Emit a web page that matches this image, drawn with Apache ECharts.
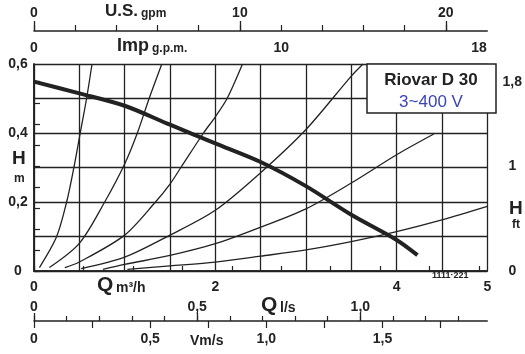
<!DOCTYPE html>
<html>
<head>
<meta charset="utf-8">
<script src="https://cdn.jsdelivr.net/npm/echarts@6/dist/echarts.min.js"></script>
<style>
html,body{margin:0;padding:0;background:#fff;}
#main{width:525px;height:354px;}
</style>
</head>
<body>
<div id="main"></div>
<script>
// Q in m3/h, H in m
var pumpCurve = [[0,0.549],[0.5,0.515],[1.0,0.479],[1.5,0.424],[2.0,0.37],[2.5,0.316],[3.0,0.246],[3.5,0.163],[4.0,0.09],[4.23,0.046]];
var sys1 = [[0.06,0.01],[0.25,0.1],[0.36,0.2],[0.44,0.3],[0.51,0.4],[0.58,0.5],[0.64,0.6]];
var sys2 = [[0.17,0.01],[0.5,0.08],[0.78,0.2],[1.0,0.31],[1.14,0.4],[1.27,0.5],[1.41,0.6]];
var sys3 = [[0.34,0.01],[0.5,0.026],[1.0,0.104],[1.34,0.2],[1.5,0.252],[1.62,0.3],[1.87,0.4],[2.0,0.447],[2.13,0.5],[2.3,0.6]];
var sys4 = [[0.52,0.007],[1.0,0.04],[1.5,0.104],[2.0,0.176],[2.5,0.285],[3.0,0.41],[3.5,0.565],[3.63,0.6]];
var sys5 = [[0.76,0.005],[1.0,0.019],[1.5,0.045],[2.0,0.079],[2.5,0.127],[3.0,0.18],[3.5,0.255],[4.0,0.337],[4.41,0.397]];
var sys6 = [[1.03,0.005],[1.5,0.015],[2.0,0.026],[2.5,0.043],[3.0,0.061],[3.5,0.085],[4.0,0.114],[4.5,0.148],[5.0,0.187]];

// tick / label values of the scales
var qLabels = [0,2,4,5];
var hLabels = [0,0.2,0.4,0.6];
var ftTicks = [0,0.2,0.4,0.6,0.8,1,1.2,1.4,1.6,1.8];
var ftLabels = [0,1,1.8];
var usTicks = [0,2,4,6,8,10,12,14,16,18,20];
var usMajor = [0,10,20];
var impTicks = [0,2,4,6,8,10,12,14,16,18];
var impLabels = [0,10,18];
var lsTicks = [0,0.1,0.2,0.3,0.4,0.5,0.6,0.7,0.8,0.9,1.0,1.1,1.2,1.3];
var lsMajor = [0,0.5,1.0];
var vTicks = [0,0.25,0.5,0.75,1.0,1.25,1.5,1.75];
var vLabels = [0,0.5,1.0,1.5];

var ink = '#222';
var FONT = 'Liberation Sans';
var lbl = {color: ink, fontFamily: FONT, fontWeight: 'bold', fontSize: 14};

function comma(v) { return v === 0 ? '0' : String(v).replace('.', ','); }
function comma1(v) { return v === 0 ? '0' : v.toFixed(1).replace('.', ','); }

var dom = document.getElementById('main');
var myChart = echarts.init(dom);

var lineOf = function (data, w) {
    return {
        type: 'line', data: data, showSymbol: false, smooth: 0.3,
        lineStyle: {color: ink, width: w}, silent: true
    };
};
var txt = function (x, y, s, size) {
    return {type: 'text', x: x, y: y, z: 100, style: {text: s, font: 'bold ' + size + 'px ' + FONT, fill: ink, verticalAlign: 'bottom'}};
};

var option = {
    backgroundColor: '#fff',
    animation: false,
    grid: {left: 34, right: 34, top: 64, bottom: 83},
    xAxis: [
        {   // Q m3/h
            type: 'value', position: 'bottom', min: 0, max: 5, interval: 0.5,
            axisLine: {show: true, lineStyle: {color: ink, width: 1.6}},
            axisTick: {show: false},
            splitLine: {show: true, lineStyle: {color: ink, width: 1.3}},
            axisLabel: Object.assign({customValues: qLabels, margin: 9, formatter: comma}, lbl)
        },
        {   // Imp gpm
            type: 'value', position: 'top', offset: 0, min: 0, max: 5 * 3.6662,
            axisLine: {show: true, lineStyle: {color: ink, width: 1.5}},
            axisTick: {show: true, customValues: impTicks, length: 5, lineStyle: {color: ink, width: 1.2}},
            splitLine: {show: false},
            axisLabel: Object.assign({customValues: impLabels, margin: 9}, lbl)
        },
        {   // US gpm, minor
            type: 'value', position: 'top', offset: 33, min: 0, max: 5 * 4.4029,
            axisLine: {show: true, lineStyle: {color: ink, width: 1.5}},
            axisTick: {show: true, customValues: usTicks, length: 6, lineStyle: {color: ink, width: 1.2}},
            splitLine: {show: false},
            axisLabel: {show: false}
        },
        {   // US gpm, major
            type: 'value', position: 'top', offset: 33, min: 0, max: 5 * 4.4029,
            axisLine: {show: false},
            axisTick: {show: true, customValues: usMajor, length: 10, lineStyle: {color: ink, width: 1.3}},
            splitLine: {show: false},
            axisLabel: Object.assign({customValues: usMajor, margin: 11}, lbl)
        },
        {   // l/s minor
            type: 'value', position: 'bottom', offset: 50, min: 0, max: 5 / 3.6,
            axisLine: {show: true, lineStyle: {color: ink, width: 1.5}},
            axisTick: {show: true, inside: true, customValues: lsTicks, length: 5, lineStyle: {color: ink, width: 1.2}},
            splitLine: {show: false},
            axisLabel: {show: false}
        },
        {   // l/s major
            type: 'value', position: 'bottom', offset: 50, min: 0, max: 5 / 3.6,
            axisLine: {show: false},
            axisTick: {show: true, inside: true, customValues: lsMajor, length: 8, lineStyle: {color: ink, width: 1.3}},
            splitLine: {show: false},
            axisLabel: Object.assign({customValues: lsMajor, inside: true, margin: 7, formatter: comma1}, lbl)
        },
        {   // V m/s
            type: 'value', position: 'bottom', offset: 50, min: 0, max: 1.951,
            axisLine: {show: false},
            axisTick: {show: true, customValues: vTicks, length: 7, lineStyle: {color: ink, width: 1.2}},
            splitLine: {show: false},
            axisLabel: Object.assign({customValues: vLabels, margin: 11, formatter: comma1}, lbl)
        }
    ],
    yAxis: [
        {   // H m
            type: 'value', position: 'left', min: 0, max: 0.6, interval: 0.1,
            axisLine: {show: true, lineStyle: {color: ink, width: 1.6}},
            axisTick: {show: false},
            splitLine: {show: true, lineStyle: {color: ink, width: 1.3}},
            axisLabel: Object.assign({customValues: hLabels, margin: 16, align: 'center', formatter: comma}, lbl)
        },
        {   // H ft
            type: 'value', position: 'right', min: 0, max: 0.6 / 0.3048,
            axisLine: {show: true, lineStyle: {color: ink, width: 1.6}},
            axisTick: {show: true, customValues: ftTicks, length: 6, lineStyle: {color: ink, width: 1.2}},
            splitLine: {show: false},
            axisLabel: Object.assign({customValues: ftLabels, margin: 25, align: 'center', formatter: comma}, lbl)
        }
    ],
    series: [
        lineOf(sys1, 1.3),
        lineOf(sys2, 1.3),
        lineOf(sys3, 1.3),
        lineOf(sys4, 1.3),
        lineOf(sys5, 1.3),
        lineOf(sys6, 1.3),
        lineOf(pumpCurve, 4)
    ],
    graphic: [
        txt(105, 20, 'U.S.', 17), txt(141, 20, 'gpm', 12),
        txt(117, 55, 'Imp', 18), txt(152, 55, 'g.p.m.', 12),
        txt(12, 168, 'H', 19), txt(14, 185, 'm', 12),
        txt(509, 218, 'H', 19), txt(512, 231, 'ft', 12),
        txt(97, 296, 'Q', 21), txt(116, 295, 'm³/h', 14),
        txt(261, 316, 'Q', 21), txt(280, 315, 'l/s', 14),
        txt(190, 348, 'Vm/s', 14),
        txt(432, 280, '1111·221', 9),
        {type: 'rect', z: 100, shape: {x: 367, y: 64, width: 129, height: 49}, style: {fill: '#fff', stroke: ink, lineWidth: 1.5}},
        {type: 'text', x: 431, y: 80, z: 101, style: {text: 'Riovar D 30', font: 'bold 17px ' + FONT, fill: ink, align: 'center', verticalAlign: 'middle'}},
        {type: 'text', x: 431, y: 102, z: 101, style: {text: '3~400 V', font: '17px ' + FONT, fill: '#3b44b8', align: 'center', verticalAlign: 'middle'}}
    ]
};

if (option && typeof option === 'object') {
    myChart.setOption(option, true);
}
</script>
</body>
</html>
